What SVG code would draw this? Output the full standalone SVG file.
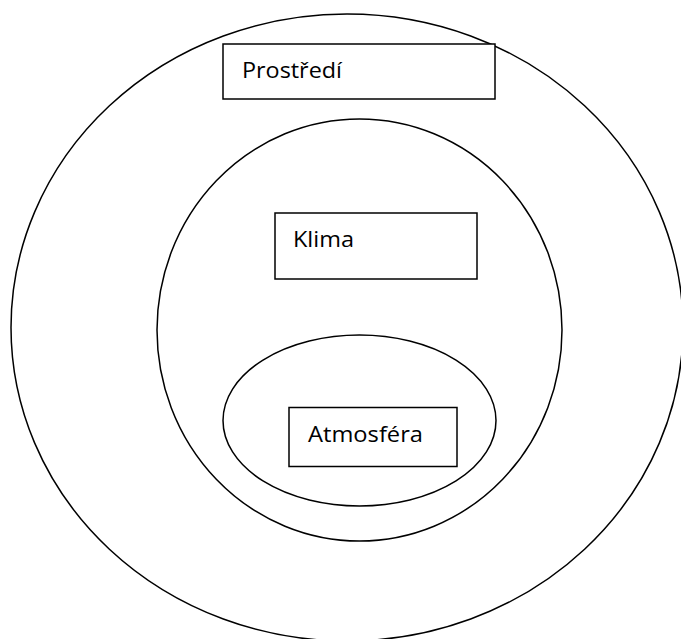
<svg xmlns="http://www.w3.org/2000/svg" width="681" height="639" viewBox="0 0 681 639">
<style>
.sh{fill:none;stroke:#000;stroke-width:1.5}
.bx{fill:#fff;stroke:#000;stroke-width:1.5}
.t{font-family:"Open Sans","Noto Sans","DejaVu Sans",sans-serif;font-size:22px;fill:#000}
</style>
<rect x="0" y="0" width="681" height="639" fill="#fff"/>
<g id="prostredi">
<ellipse class="sh" cx="347" cy="327.5" rx="336" ry="313.5"/>
<rect class="bx" x="223" y="44" width="272" height="55"/>
<text class="t" x="242" y="78" textLength="100" lengthAdjust="spacingAndGlyphs">Prostředí</text>
</g>
<g id="klima">
<ellipse class="sh" cx="359.5" cy="330" rx="202.5" ry="211"/>
<rect class="bx" x="275" y="213" width="202" height="66"/>
<text class="t" x="293" y="247" textLength="61" lengthAdjust="spacingAndGlyphs">Klima</text>
</g>
<g id="atmosfera">
<ellipse class="sh" cx="359.5" cy="420.5" rx="136.5" ry="85.5"/>
<rect class="bx" x="289" y="407.5" width="168" height="59"/>
<text class="t" x="308" y="442" textLength="115" lengthAdjust="spacingAndGlyphs">Atmosféra</text>
</g>
<g id="connectors"/>
</svg>
